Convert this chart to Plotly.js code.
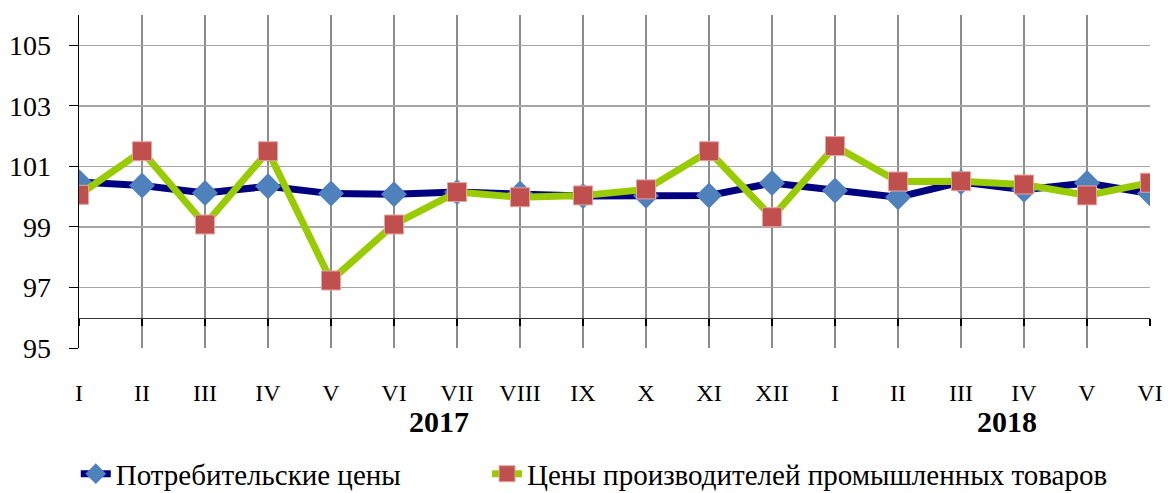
<!DOCTYPE html>
<html>
<head>
<meta charset="utf-8">
<script src="https://cdn.plot.ly/plotly-3.0.1.min.js"></script>
<style>html,body{margin:0;padding:0;background:#fff;}#chart{width:1168px;height:493px;}</style>
</head>
<body>
<div id="chart"></div>
<script>
var months = ["I","II","III","IV","V","VI","VII","VIII","IX","X","XI","XII","I","II","III","IV","V","VI"];
var years = ["2017","2018"];
var consumer = [100.48,100.37,100.12,100.34,100.10,100.08,100.15,100.10,100.02,100.03,100.04,100.45,100.20,99.98,100.48,100.23,100.45,100.10];
var producer = [100.06,101.50,99.08,101.50,97.23,99.08,100.15,99.98,100.04,100.24,101.50,99.32,101.67,100.50,100.51,100.40,100.04,100.46];
var seriesNames = ["Потребительские цены","Цены производителей промышленных товаров"];

var idx = months.map(function(_, i){ return i; });
var font = "Liberation Serif";

var traces = [
  {x: idx, y: consumer, name: seriesNames[0], type: "scatter", mode: "lines+markers", legend: "legend",
   line: {color: "#000080", width: 7},
   marker: {symbol: "diamond", size: 20, color: "#4F81BD", line: {width: 0}}},
  {x: idx, y: producer, name: seriesNames[1], type: "scatter", mode: "lines+markers", legend: "legend2",
   line: {color: "#99CC00", width: 7},
   marker: {symbol: "square", size: 19, color: "#C0504D", line: {width: 1, color: "#E6A5A3"}}},
  {x: idx, y: idx.map(function(){return null;}), xaxis: "x2", showlegend: false, hoverinfo: "skip", type: "scatter", mode: "lines"}
];

var legFont = {family: font, size: 29, color: "#000"};
var layout = {
  width: 1168, height: 493,
  margin: {l: 79, r: 18, t: 15, b: 145, autoexpand: false},
  paper_bgcolor: "#fff", plot_bgcolor: "#fff",
  font: {family: font, color: "#000", size: 22},
  showlegend: true,
  legend: {orientation: "h", x: -0.003, xanchor: "left", y: -0.378, yanchor: "middle", font: legFont, bgcolor: "rgba(0,0,0,0)"},
  legend2: {orientation: "h", x: 0.381, xanchor: "left", y: -0.378, yanchor: "middle", font: legFont, bgcolor: "rgba(0,0,0,0)"},
  xaxis: {range: [0, 17], tickvals: idx, ticktext: months, showgrid: true, gridcolor: "#8c8c8c", gridwidth: 1.5,
          zeroline: false, showline: false, ticks: "", tickfont: {family: font, size: 24, color: "#000"}, ticklabelstandoff: 28,
          automargin: false},
  xaxis2: {matches: "x", overlaying: "x", anchor: "free", position: 1/11, range: [0, 17], tickvals: idx,
           showticklabels: false, showgrid: false, zeroline: false, showline: true, linecolor: "#333", linewidth: 1.5,
           ticks: "outside", ticklen: 7, tickcolor: "#000", tickwidth: 1.5},
  yaxis: {range: [95, 106], tickvals: [95,97,99,101,103,105], showgrid: true, gridcolor: "#a6a6a6", gridwidth: 1.5,
          zeroline: false, showline: true, linecolor: "#000", linewidth: 1.5, ticks: "outside", ticklen: 9,
          tickcolor: "#000", tickfont: {family: font, size: 28, color: "#000"}, ticklabelstandoff: 12, automargin: false},
  annotations: [
    {x: 5.72, y: -0.222, xref: "x", yref: "paper", text: "<b>" + years[0] + "</b>", showarrow: false,
     font: {family: font, size: 30, color: "#000"}, yanchor: "middle"},
    {x: 14.73, y: -0.222, xref: "x", yref: "paper", text: "<b>" + years[1] + "</b>", showarrow: false,
     font: {family: font, size: 30, color: "#000"}, yanchor: "middle"}
  ]
};

Plotly.newPlot("chart", traces, layout, {displayModeBar: false, staticPlot: true});
</script>
</body>
</html>
